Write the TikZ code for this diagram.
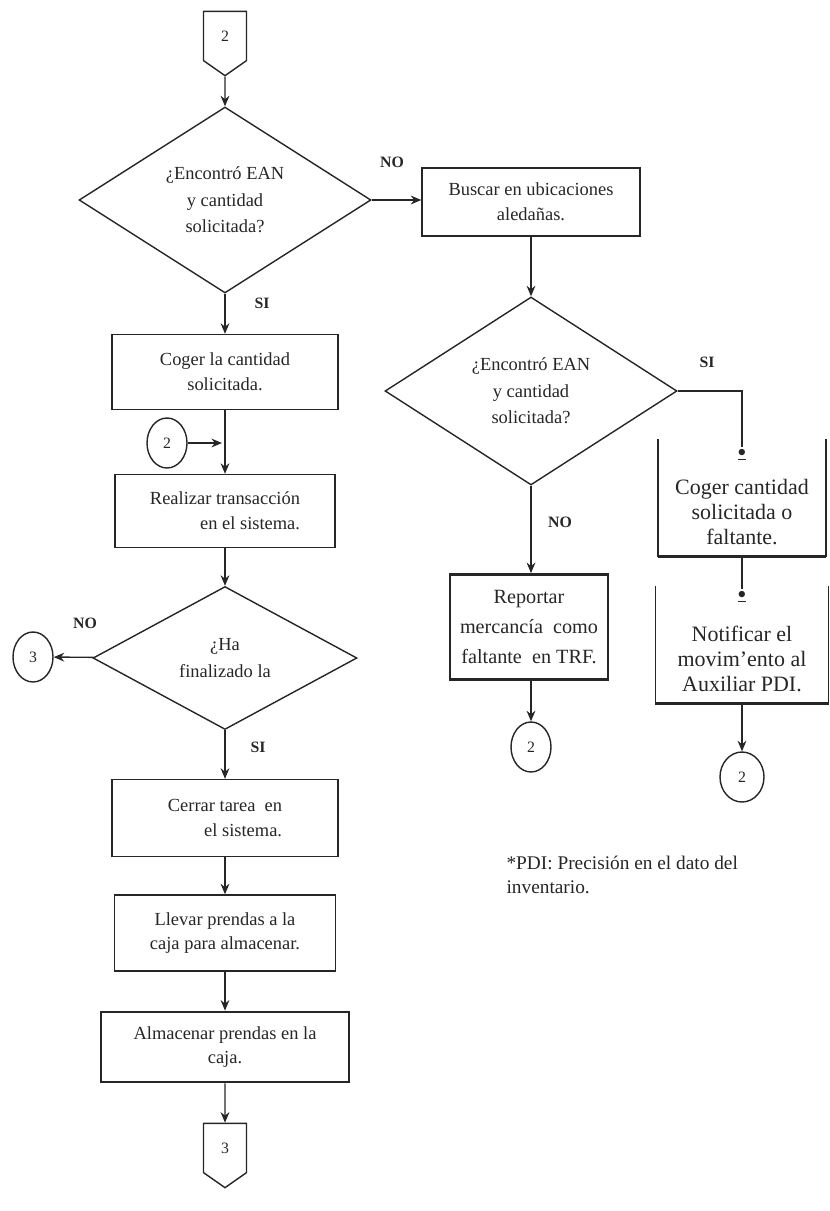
\documentclass[tikz,border=0pt]{standalone}
\usepackage{fontspec}
\setmainfont{Liberation Serif}
\usetikzlibrary{positioning, shapes.geometric, shapes.symbols, arrows.meta}

\tikzset{
  proc/.style={draw, rectangle, align=center, inner sep=2pt, font=\fontsize{10.5}{14}\selectfont},
  thickproc/.style={proc, line width=1.6pt},
  openproc/.style={rectangle, align=center, inner sep=2pt, font=\fontsize{12.5}{14.5}\selectfont},
  decision/.style={draw, diamond, aspect=1.6, inner sep=0pt, align=center, font=\fontsize{10.5}{15}\selectfont},
  conn/.style={draw, ellipse, minimum width=0.8cm, minimum height=1cm, inner sep=0pt, font=\small},
  offpage/.style={draw, signal, signal to=south, signal from=nowhere, signal pointer angle=110,
    minimum width=0.86cm, minimum height=1.04cm, inner sep=0pt, font=\small},
  flow/.style={->, >={Stealth[length=6pt, width=5pt]}},
  answer/.style={font=\fontsize{9}{10}\selectfont\bfseries},
  bullet/.style={inner sep=1pt, font=\small},
}

\begin{document}
\begin{tikzpicture}[x=0.02cm, y=-0.02cm, line width=0.8pt, color=black!85]
  \useasboundingbox (0,0) rectangle (829,1211);

  % Left column
  \node[offpage] (op2) at (225,36) {2};
  \node[decision, minimum width=5.84cm, minimum height=3.72cm] (d1) at (225,200) {¿Encontró EAN\\ y cantidad\\ solicitada?};
  \node[proc, minimum width=4.52cm, minimum height=1.5cm] (coger) at (225,372) {Coger la cantidad\\ solicitada.};
  \node[conn] (c2) at (167,443) {2};
  \coordinate (j2) at (222,443);
  \node[proc, align=right, minimum width=4.4cm, minimum height=1.46cm] (realizar) at (225,511) {Realizar transacción\\ en el sistema.};
  \node[decision, minimum width=5.28cm, minimum height=2.86cm] (d3) at (225,658) {¿Ha\\ finalizado la};
  \node[conn] (c3) at (33,657) {3};
  \node[proc, align=right, minimum width=4.52cm, minimum height=1.54cm] (cerrar) at (225,818) {Cerrar tarea \ en\\ el sistema.};
  \node[proc, minimum width=4.42cm, minimum height=1.52cm] (llevar) at (225,933) {Llevar prendas a la\\ caja para almacenar.};
  \node[thickproc, minimum width=4.96cm, minimum height=1.4cm] (almacenar) at (225,1047) {Almacenar prendas en la\\ caja.};
  \node[offpage] (op3) at (225,1148) {3};

  % Right columns
  \node[proc, minimum width=4.36cm, minimum height=1.36cm] (buscar) at (531,202) {Buscar en ubicaciones\\ aledañas.};
  \node[decision, minimum width=5.84cm, minimum height=3.76cm] (d2) at (531,391) {¿Encontró EAN\\ y cantidad\\ solicitada?};
  \node[thickproc, font=\fontsize{11.5}{17}\selectfont, minimum width=3.16cm, minimum height=2.1cm] (reportar) at (529,627) {Reportar\\ mercancía \ como\\ faltante \ en TRF.};
  \node[conn] (c2b) at (531,747) {2};

  \node[openproc, minimum width=3.34cm, minimum height=2.32cm] (cogerf) at (742,498) {\strut\\ Coger cantidad\\ solicitada o\\ faltante.};
  \node[bullet] (dotc) at (742,455) {\underline{$\bullet$}};
  \node[openproc, minimum width=3.44cm, minimum height=2.32cm] (notificar) at (742,645) {\strut\\ Notificar el\\ movim'ento al\\ Auxiliar PDI.};
  \node[bullet] (dotn) at (742,597) {\underline{$\bullet$}};
  \node[conn, minimum width=0.88cm] (c2c) at (742,777) {2};

  % Open boxes
  \draw (cogerf.north west) -- (cogerf.south west) (cogerf.south east) -- (cogerf.north east);
  \draw[line width=1.6pt] (cogerf.south west) -- (cogerf.south east);
  \draw (notificar.north west) -- (notificar.south west) (notificar.south east) -- (notificar.north east);
  \draw[line width=1.6pt] (notificar.south west) -- (notificar.south east);

  % Answers
  \node[answer] (no1) at (392,162) {NO};
  \node[answer] (si1) at (262,303) {SI};
  \node[answer] (no3) at (85,623) {NO};
  \node[answer] (si3) at (258,747) {SI};
  \node[answer] (si2) at (707,362) {SI};
  \node[answer] (no2) at (560,522) {NO};

  % Note
  \node[anchor=west, align=left, font=\fontsize{11}{14}\selectfont] (nota) at (500,875) {*PDI: Precisión en el dato del\\ inventario.};

  % Connectors
  \draw[flow] (op2) -- (d1);
  \draw[flow] (d1.east) -- (d1.east -| buscar.west);
  \draw[flow] (d1) -- (coger);
  \draw[flow] (coger) -- (realizar);
  \draw[flow] (c2) -- (j2);
  \draw[flow] (realizar) -- (d3);
  \draw[flow] (d3) -- (c3);
  \draw[flow] (d3) -- (cerrar);
  \draw[flow] (cerrar) -- (llevar);
  \draw[flow] (llevar) -- (almacenar);
  \draw[flow] (almacenar) -- (op3);
  \draw[flow] (buscar) -- (d2);
  \draw (d2.east) -| (dotc.north);
  \draw[flow] (d2) -- (d2.south |- reportar.north);
  \draw[flow] (c2b |- reportar.south) -- (c2b);
  \draw (cogerf.south) -- (dotn.north);
  \draw[flow] (notificar) -- (c2c);
\end{tikzpicture}
\end{document}
